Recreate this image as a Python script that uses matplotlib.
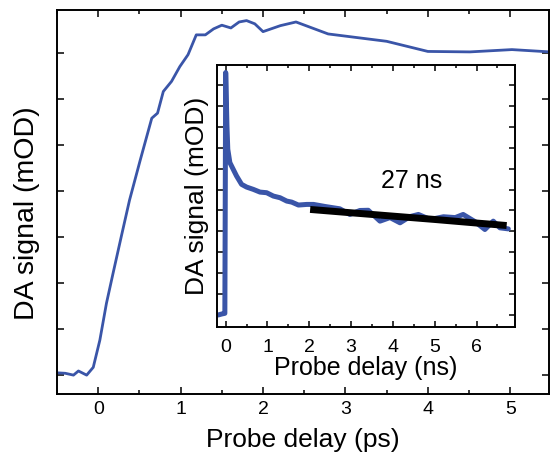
import matplotlib
matplotlib.use("Agg")
import matplotlib.pyplot as plt
from matplotlib.ticker import MultipleLocator, NullFormatter

plt.rcParams['font.family'] = ['Liberation Sans', 'DejaVu Sans']

# Main trace (ps)
main_t = [-0.50, -0.40, -0.30, -0.24, -0.14, -0.06, 0.02, 0.10, 0.18, 0.28, 0.38, 0.51,
          0.65, 0.72, 0.79, 0.89, 0.99, 1.09, 1.19, 1.30, 1.40, 1.50, 1.61, 1.71, 1.80,
          1.90, 2.00, 2.21, 2.40, 2.79, 3.50, 4.00, 4.51, 5.02, 5.48]
main_y = [0.05, 0.04, 0.00, 0.09, 0.00, 0.17, 0.76, 1.56, 2.21, 3.01, 3.80, 4.67,
          5.58, 5.69, 6.16, 6.38, 6.70, 6.96, 7.39, 7.39, 7.52, 7.60, 7.54, 7.67, 7.70,
          7.63, 7.46, 7.59, 7.67, 7.41, 7.25, 7.03, 7.02, 7.07, 7.02]

# Inset trace (ns)
ins_t = [-0.18, -0.09, -0.02, 0.00, 0.03, 0.05, 0.10, 0.18, 0.26, 0.38, 0.50, 0.66,
         0.82, 0.98, 1.14, 1.30, 1.46, 1.58, 1.74, 1.94, 2.10, 2.38, 2.73, 2.97, 3.21,
         3.41, 3.69, 3.93, 4.17, 4.41, 4.61, 4.89, 5.21, 5.49, 5.68, 5.96, 6.20, 6.40,
         6.56, 6.76]
ins_y = [0.00, 0.05, 0.08, 11.60, 9.05, 7.93, 7.29, 6.97, 6.65, 6.25, 6.12, 6.01,
         5.88, 5.85, 5.69, 5.61, 5.45, 5.40, 5.26, 5.29, 5.29, 5.19, 5.08, 4.81, 5.00,
         5.01, 4.49, 4.66, 4.41, 4.71, 4.81, 4.57, 4.70, 4.66, 4.81, 4.47, 4.09, 4.49,
         4.17, 4.12]

# Exponential fit (27 ns)
fit_t = [2.02, 3.0, 4.0, 5.0, 6.0, 6.72]
fit_y = [5.05, 4.89, 4.73, 4.57, 4.40, 4.28]
fit_label = "27 ns"

blue = '#3A55A8'

fig = plt.figure(figsize=(5.5, 4.53), dpi=100)
ax = fig.add_axes([57/550, (453-394)/453, 492/550, 384/453])
ax.plot(main_t, main_y, color=blue, lw=2.0, solid_joinstyle='round')
ax.set_xlim(-0.5, 5.47)
ax.set_ylim(-0.41, 7.93)
ax.xaxis.set_major_locator(MultipleLocator(1))
ax.xaxis.set_minor_locator(MultipleLocator(0.5))
ax.yaxis.set_major_locator(MultipleLocator(1))
ax.yaxis.set_major_formatter(NullFormatter())
ax.tick_params(which='both', direction='in', top=True, right=True, width=1.1,
               labelsize=14, pad=5)
ax.tick_params(which='major', length=5)
ax.tick_params(which='minor', length=3)
for s in ax.spines.values():
    s.set_linewidth(1.4)
ax.set_xlabel('Probe delay (ps)', fontsize=19, labelpad=7)
ax.set_ylabel('DA signal (mOD)', fontsize=20.5)
ax.yaxis.set_label_coords(-0.035, 0.47)

ins = fig.add_axes([216.7/550, (453-326.7)/453, 298.3/550, 261.7/453])
ins.plot(ins_t, ins_y, color=blue, lw=3.6, solid_joinstyle='round', solid_capstyle='round')
ins.plot(fit_t, fit_y, color='black', lw=5.0, solid_capstyle='butt')
ins.text(4.45, 6.41, fit_label, fontsize=18, ha='center', va='center')
ins.set_xlim(-0.215, 6.92)
ins.set_ylim(-0.56, 11.96)
ins.xaxis.set_major_locator(MultipleLocator(1))
ins.xaxis.set_minor_locator(MultipleLocator(0.5))
ins.yaxis.set_major_locator(MultipleLocator(1))
ins.yaxis.set_major_formatter(NullFormatter())
ins.tick_params(which='both', direction='in', top=True, right=True, width=1.1,
                labelsize=14, pad=9)
ins.tick_params(which='major', length=4)
ins.tick_params(which='minor', length=2.5)
for s in ins.spines.values():
    s.set_linewidth(1.4)
ins.set_xlabel('Probe delay (ns)', fontsize=18, labelpad=0)
ins.set_ylabel('DA signal (mOD)', fontsize=19)
ins.yaxis.set_label_coords(-0.025, 0.5)

fig.savefig('out.png', dpi=100)
